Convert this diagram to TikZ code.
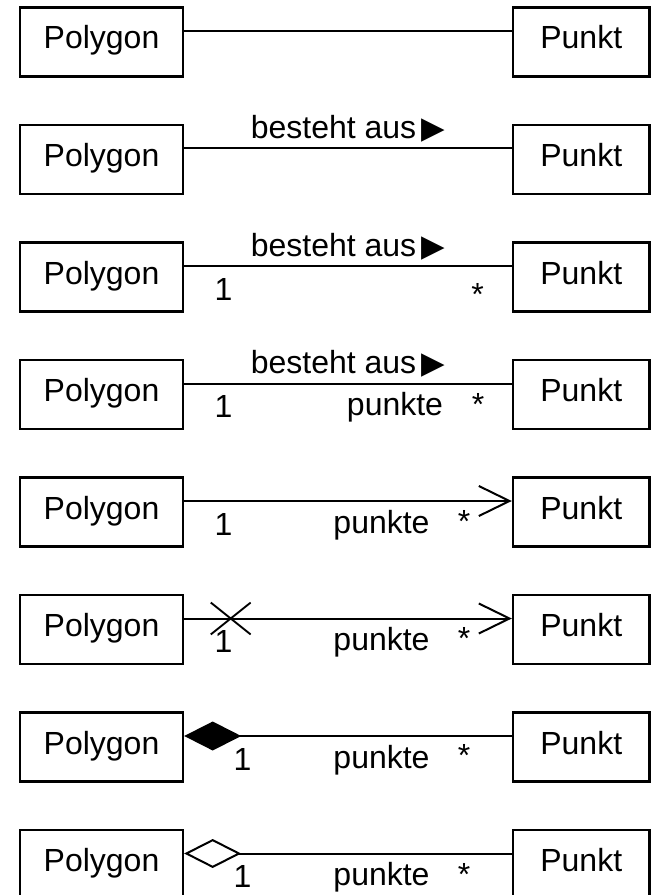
\documentclass[tikz,border=0pt]{standalone}
\usepackage{fontspec}
\setmainfont{Liberation Sans}
\newfontfamily\symbfont{DejaVu Sans}
\usetikzlibrary{arrows.meta, shapes.misc}
\tikzset{
    % Class boxes - sharp corners, text a bit above centre
    classbox/.style={
        rectangle,
        draw=black,
        line width=1.8pt,
        minimum height=51.75pt,
        inner sep=0pt,
        text height=17.5pt,
        text depth=7pt,
        font=\fontsize{24}{28}\selectfont
    },
    polybox/.style={classbox, minimum width=122.25pt},
    punktbox/.style={classbox, minimum width=102.4pt},
    % Connector styles
    assocline/.style={
        line width=1.5pt,
        black
    },
    navarrow/.style={
        assocline,
        -{Straight Barb[length=23pt, width=22.5pt]}
    },
    % Labels on connectors
    assoclabel/.style={
        inner sep=0pt,
        anchor=base,
        font=\fontsize{24}{28}\selectfont
    },
    crossmark/.style={
        cross out,
        draw=black,
        line width=1.4pt,
        minimum width=28.5pt,
        minimum height=22.5pt,
        inner sep=0pt
    }
}
\newcommand{\readdir}{\,{\symbfont\fontsize{23}{24}\selectfont ▶}}

\begin{document}
\begin{tikzpicture}[x=0.75pt, y=-0.75pt]
    \useasboundingbox (0,0) rectangle (652,895);

    % Class boxes
    \node[polybox] (pol1) at (101.5,42) {Polygon};
    \node[punktbox] (pkt1) at (581.25,42) {Punkt};
    \node[polybox] (pol2) at (101.5,159.5) {Polygon};
    \node[punktbox] (pkt2) at (581.25,159.5) {Punkt};
    \node[polybox] (pol3) at (101.5,277) {Polygon};
    \node[punktbox] (pkt3) at (581.25,277) {Punkt};
    \node[polybox] (pol4) at (101.5,394.5) {Polygon};
    \node[punktbox] (pkt4) at (581.25,394.5) {Punkt};
    \node[polybox] (pol5) at (101.5,512) {Polygon};
    \node[punktbox] (pkt5) at (581.25,512) {Punkt};
    \node[polybox] (pol6) at (101.5,629.5) {Polygon};
    \node[punktbox] (pkt6) at (581.25,629.5) {Punkt};
    \node[polybox] (pol7) at (101.5,747) {Polygon};
    \node[punktbox] (pkt7) at (581.25,747) {Punkt};
    \node[polybox] (pol8) at (101.5,864.5) {Polygon};
    \node[punktbox] (pkt8) at (581.25,864.5) {Punkt};

    % Plain association
    \draw[assocline] ([yshift=8.25pt]pol1.east) -- ([yshift=8.25pt]pkt1.west);

    % Association with name and reading direction
    \draw[assocline] ([yshift=8.25pt]pol2.east) -- node[assoclabel, midway, yshift=7.5pt] (name2) {besteht aus\readdir} ([yshift=8.25pt]pkt2.west);

    % Multiplicities
    \draw[assocline] ([yshift=8.25pt]pol3.east) -- node[assoclabel, midway, yshift=7.5pt] (name3) {besteht aus\readdir} ([yshift=8.25pt]pkt3.west);
    \node[assoclabel] (m3a) at (223.5,300) {1};
    \node[assoclabel] (m3b) at (477.5,305) {*};

    % Role name
    \draw[assocline] ([yshift=8.25pt]pol4.east) -- node[assoclabel, midway, yshift=7.5pt] (name4) {besteht aus\readdir} ([yshift=8.25pt]pkt4.west);
    \node[assoclabel] (m4a) at (223.5,417.5) {1};
    \node[assoclabel] (r4) at (395,415.5) {punkte};
    \node[assoclabel] (m4b) at (478,415.5) {*};

    % Navigability
    \draw[navarrow] ([yshift=8.25pt]pol5.east) -- ([yshift=8.25pt]pkt5.west);
    \node[assoclabel] (m5a) at (223.5,535) {1};
    \node[assoclabel] (r5) at (381.5,533) {punkte};
    \node[assoclabel] (m5b) at (464,532.5) {*};

    % Not navigable back
    \draw[navarrow] ([yshift=8.25pt]pol6.east) -- node[crossmark, pos=0.142] (x6) {} ([yshift=8.25pt]pkt6.west);
    \node[assoclabel] (m6a) at (223.5,652) {1};
    \node[assoclabel] (r6) at (381.5,650.5) {punkte};
    \node[assoclabel] (m6b) at (464,649.5) {*};

    % Composition
    \draw[navarrow, {Diamond[length=42.75pt, width=21.75pt]}-] ([yshift=8.25pt]pol7.east) -- ([yshift=8.25pt]pkt7.west);
    \node[assoclabel] (m7a) at (242.5,770) {1};
    \node[assoclabel] (r7) at (381.5,768) {punkte};
    \node[assoclabel] (m7b) at (464,766.5) {*};

    % Aggregation
    \draw[navarrow, {Diamond[open, length=42.75pt, width=21.75pt]}-] ([yshift=8.25pt]pol8.east) -- ([yshift=8.25pt]pkt8.west);
    \node[assoclabel] (m8a) at (242.5,887.5) {1};
    \node[assoclabel] (r8) at (381.5,885.5) {punkte};
    \node[assoclabel] (m8b) at (464,885.5) {*};
\end{tikzpicture}
\end{document}
